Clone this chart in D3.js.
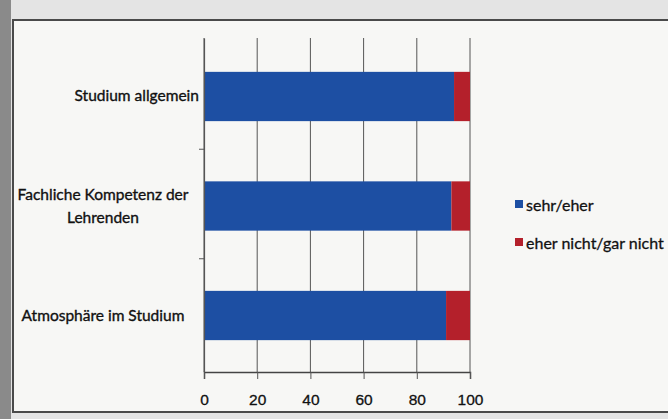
<!DOCTYPE html>
<html>
<head>
<meta charset="utf-8">
<script src="https://cdn.jsdelivr.net/npm/d3@7"></script>
<style>
  html, body { margin: 0; padding: 0; background: #dcdcdc; }
  svg { display: block; }
</style>
</head>
<body>
<script>
// Data
const categories = ["Studium allgemein", "Fachliche Kompetenz der Lehrenden", "Atmosphäre im Studium"];
const seriesNames = ["sehr/eher", "eher nicht/gar nicht"];
const positive = [94, 93, 91];
const negative = [6, 7, 9];
const ticks = [0, 20, 40, 60, 80, 100];

const width = 668, height = 419;
const margin = { top: 38, left: 204, right: 198, bottom: 47 };

const svg = d3.select("body").append("svg")
    .attr("width", width)
    .attr("height", height)
    .style("font-family", "Lato, 'Open Sans', sans-serif");

// Photo paper background and chart frame
svg.append("rect").attr("width", width).attr("height", height).attr("fill", "#e4e4e4");
svg.append("rect").attr("x", 0).attr("y", 0).attr("width", 11).attr("height", height).attr("fill", "#8a8a8a");
svg.append("rect")
    .attr("x", 13).attr("y", 20)
    .attr("width", 660).attr("height", 392)
    .attr("fill", "#f7f7f5")
    .attr("stroke", "#4a4a4a")
    .attr("stroke-width", 2);

const x = d3.scaleLinear().domain([0, 100]).range([margin.left, width - margin.right]);
const y = d3.scaleBand().domain(categories).range([margin.top, height - margin.bottom]).paddingInner(0.55).paddingOuter(0.3);

// Grid lines
svg.append("g")
    .selectAll("line")
    .data(ticks)
    .join("line")
    .attr("x1", d => x(d)).attr("x2", d => x(d))
    .attr("y1", margin.top).attr("y2", height - margin.bottom)
    .attr("stroke", "#555")
    .attr("stroke-width", 1);

// Stacked bars
const stackData = categories.map((c, i) => ({ cat: c, pos: positive[i], neg: negative[i] }));
const colors = ["#1d4fa3", "#b4202b"];

const rows = svg.append("g").selectAll("g").data(stackData).join("g");
rows.append("rect")
    .attr("x", x(0))
    .attr("y", d => y(d.cat) + 1)
    .attr("width", d => x(d.pos) - x(0))
    .attr("height", y.bandwidth())
    .attr("fill", colors[0]);
rows.append("rect")
    .attr("x", d => x(d.pos))
    .attr("y", d => y(d.cat) + 1)
    .attr("width", d => x(d.pos + d.neg) - x(d.pos))
    .attr("height", y.bandwidth())
    .attr("fill", colors[1]);

// Axes
const xAxis = svg.append("g")
    .attr("transform", `translate(0,${height - margin.bottom})`)
    .call(d3.axisBottom(x).tickValues(ticks).tickSize(7).tickPadding(15));
xAxis.select(".domain").attr("stroke", "#444").attr("stroke-width", 1.5);
xAxis.selectAll(".tick line").attr("stroke", "#555");
xAxis.selectAll("text").attr("font-size", 15.5).attr("fill", "#111")
    .attr("stroke", "#111").attr("stroke-width", 0.3);

const yAxis = svg.append("g")
    .attr("transform", `translate(${margin.left},0)`)
    .call(d3.axisLeft(y).tickSize(0).tickPadding(14));
yAxis.select(".domain").attr("stroke", "#555").attr("stroke-width", 1.2);
yAxis.selectAll("text").remove();

// category separator ticks
const step = y.step();
svg.append("g")
    .selectAll("line")
    .data(categories.slice(1))
    .join("line")
    .attr("x1", margin.left - 5).attr("x2", margin.left)
    .attr("y1", d => y(d) - step * 0.55 / 2 - 1)
    .attr("y2", d => y(d) - step * 0.55 / 2 - 1)
    .attr("stroke", "#555");

// Category labels (wrapped like the original)
const labelLines = {
  "Studium allgemein": ["Studium allgemein"],
  "Fachliche Kompetenz der Lehrenden": ["Fachliche Kompetenz der", "Lehrenden"],
  "Atmosphäre im Studium": ["Atmosphäre im Studium"]
};
const lab = svg.append("g").selectAll("text").data(categories).join("text")
    .attr("font-size", 15.5)
    .attr("fill", "#111")
    .attr("stroke", "#111").attr("stroke-width", 0.35)
    .attr("text-anchor", d => d === categories[0] ? "end" : "middle")
    .attr("y", d => y(d) + y.bandwidth() / 2 - (labelLines[d].length - 1) * 11 + 6);
lab.selectAll("tspan")
    .data(d => labelLines[d].map(t => ({ t, first: d === categories[0] })))
    .join("tspan")
    .attr("x", d => d.first ? 199 : 103)
    .attr("dy", (d, i) => i === 0 ? 0 : 23)
    .text(d => d.t);

// Legend
const legend = svg.append("g").selectAll("g").data(seriesNames).join("g")
    .attr("transform", (d, i) => `translate(515,${207 + i * 38})`);
legend.append("rect")
    .attr("x", 0).attr("y", -7)
    .attr("width", 8).attr("height", 8)
    .attr("fill", (d, i) => colors[i]);
legend.append("text")
    .attr("x", 11).attr("y", 4)
    .attr("font-size", 16)
    .attr("fill", "#111")
    .attr("stroke", "#111").attr("stroke-width", 0.3)
    .text(d => d);
</script>
</body>
</html>
